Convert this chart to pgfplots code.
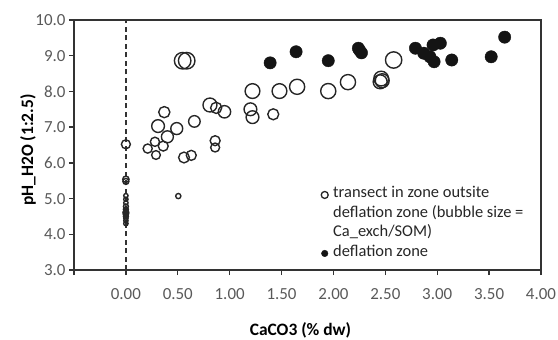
\documentclass[border=0pt]{standalone}
\usepackage{fontspec}
\setmainfont{Carlito}
\usepackage{pgfplots}
\pgfplotsset{compat=1.18}
\usepackage{pgfplotstable}
\definecolor{tickgray}{HTML}{595959}
\definecolor{axisgray}{HTML}{333333}
\definecolor{ring}{HTML}{262626}
\pgfplotsset{dotlegend/.style={legend image code/.code={\draw[##1] plot coordinates {(0bp,0bp)};}}}
\pgfplotstableread{
x y r
0.547 8.86 8.3
0.586 8.86 8.3
0.00 6.52 4.5
0.37 7.42 5.6
0.31 7.03 6.4
0.49 6.96 6.0
0.40 6.73 6.0
0.28 6.59 4.6
0.36 6.47 5.0
0.21 6.40 4.6
0.29 6.22 4.4
0.66 7.16 5.8
0.56 6.15 5.4
0.63 6.21 5.0
0.81 7.62 7.0
0.87 7.54 5.6
0.95 7.43 6.2
0.86 6.62 5.0
0.86 6.43 4.5
1.20 7.50 6.4
1.22 7.28 6.4
1.22 8.01 7.4
1.42 7.36 5.5
1.48 8.01 7.4
1.65 8.13 7.6
1.95 8.01 7.6
2.14 8.26 7.6
2.46 8.36 7.4
2.47 8.30 7.0
2.45 8.27 7.0
2.58 8.88 8.2
0.505 5.07 2.6
0.00 5.54 3.2
0.00 5.48 3.0
0.00 5.08 2.2
0.00 4.98 2.2
0.00 4.88 2.2
0.00 4.78 2.5
0.00 4.70 2.5
0.00 4.64 2.5
0.00 4.60 3.0
0.00 4.55 2.5
0.00 4.50 2.5
0.00 4.45 2.2
0.00 4.38 2.2
0.00 4.30 2.2
}\opendata
\pgfplotstableread{
x y
1.39 8.80
1.64 9.11
1.95 8.86
2.24 9.21
2.25 9.16
2.27 9.08
2.79 9.21
2.87 9.07
2.93 8.97
2.96 9.30
3.03 9.35
2.97 8.83
3.14 8.88
3.52 8.97
3.65 9.52
}\filleddata
\begin{document}
\begin{tikzpicture}
\path[use as bounding box] (-74bp,-70bp) rectangle (484bp,270bp);
\begin{axis}[
  scale only axis, width=467bp, height=250bp,
  xmin=-0.5, xmax=4, ymin=3, ymax=10,
  xtick={-0.5,0,0.5,1,1.5,2,2.5,3,3.5,4},
  xticklabels={,0.00,0.50,1.00,1.50,2.00,2.50,3.00,3.50,4.00},
  ytick={3,4,5,6,7,8,9,10},
  yticklabels={3.0,4.0,5.0,6.0,7.0,8.0,9.0,10.0},
  tick align=outside, tick pos=left,
  major tick length=5bp,
  axis line style={axisgray, line width=1.4bp},
  every tick/.style={axisgray, line width=1.3bp},
  tick label style={font=\fontsize{17}{20}\selectfont, text=tickgray},
  xticklabel style={yshift=-10bp},
  xlabel={CaCO3 (\% dw)}, ylabel={pH\_H2O (1:2.5)},
  label style={font=\fontsize{17.5}{21}\selectfont\bfseries, text=black},
  xlabel style={at={(axis description cs:0.485,-0.242)}, anchor=center},
  ylabel style={at={(axis description cs:-0.0985,0.48)}, anchor=center},
  legend style={at={(rel axis cs:0.529,0.34)}, anchor=north west, draw=none, fill=none,
    inner sep=0pt, font=\fontsize{16.5}{19.5}\selectfont, text=black!85,
    cells={anchor=west}, column sep=3bp,
    nodes={inner xsep=2bp, inner ysep=0pt, text height=12.5bp, text depth=7bp}},
]
\addplot[axisgray, line width=1.5bp, dash pattern=on 5bp off 3.5bp, forget plot] coordinates {(0,3) (0,10)};
\addplot[scatter, only marks, mark=o, forget plot,
  scatter/use mapped color={draw=ring},
  mark options={line width=1.4bp},
  visualization depends on={\thisrow{r} \as \myr},
  scatter/@pre marker code/.append style={/tikz/mark size=\myr}]
  table[x=x, y=y] {\opendata};
\addplot[only marks, mark=*, mark size=6.2, mark options={fill=black!92, draw=black!92}, forget plot]
  table[x=x, y=y] {\filleddata};
\addlegendimage{only marks, mark=o, mark size=3.5, mark options={draw=ring, line width=1.3bp}, dotlegend}
\addlegendentry{transect in zone outsite}
\addlegendimage{empty legend}
\addlegendentry{deflation zone (bubble size =}
\addlegendimage{empty legend}
\addlegendentry{Ca\_exch/SOM)}
\addlegendimage{only marks, mark=*, mark size=3.3, mark options={fill=black!92, draw=black!92}, dotlegend}
\addlegendentry{deflation zone}
\end{axis}
\end{tikzpicture}
\end{document}
